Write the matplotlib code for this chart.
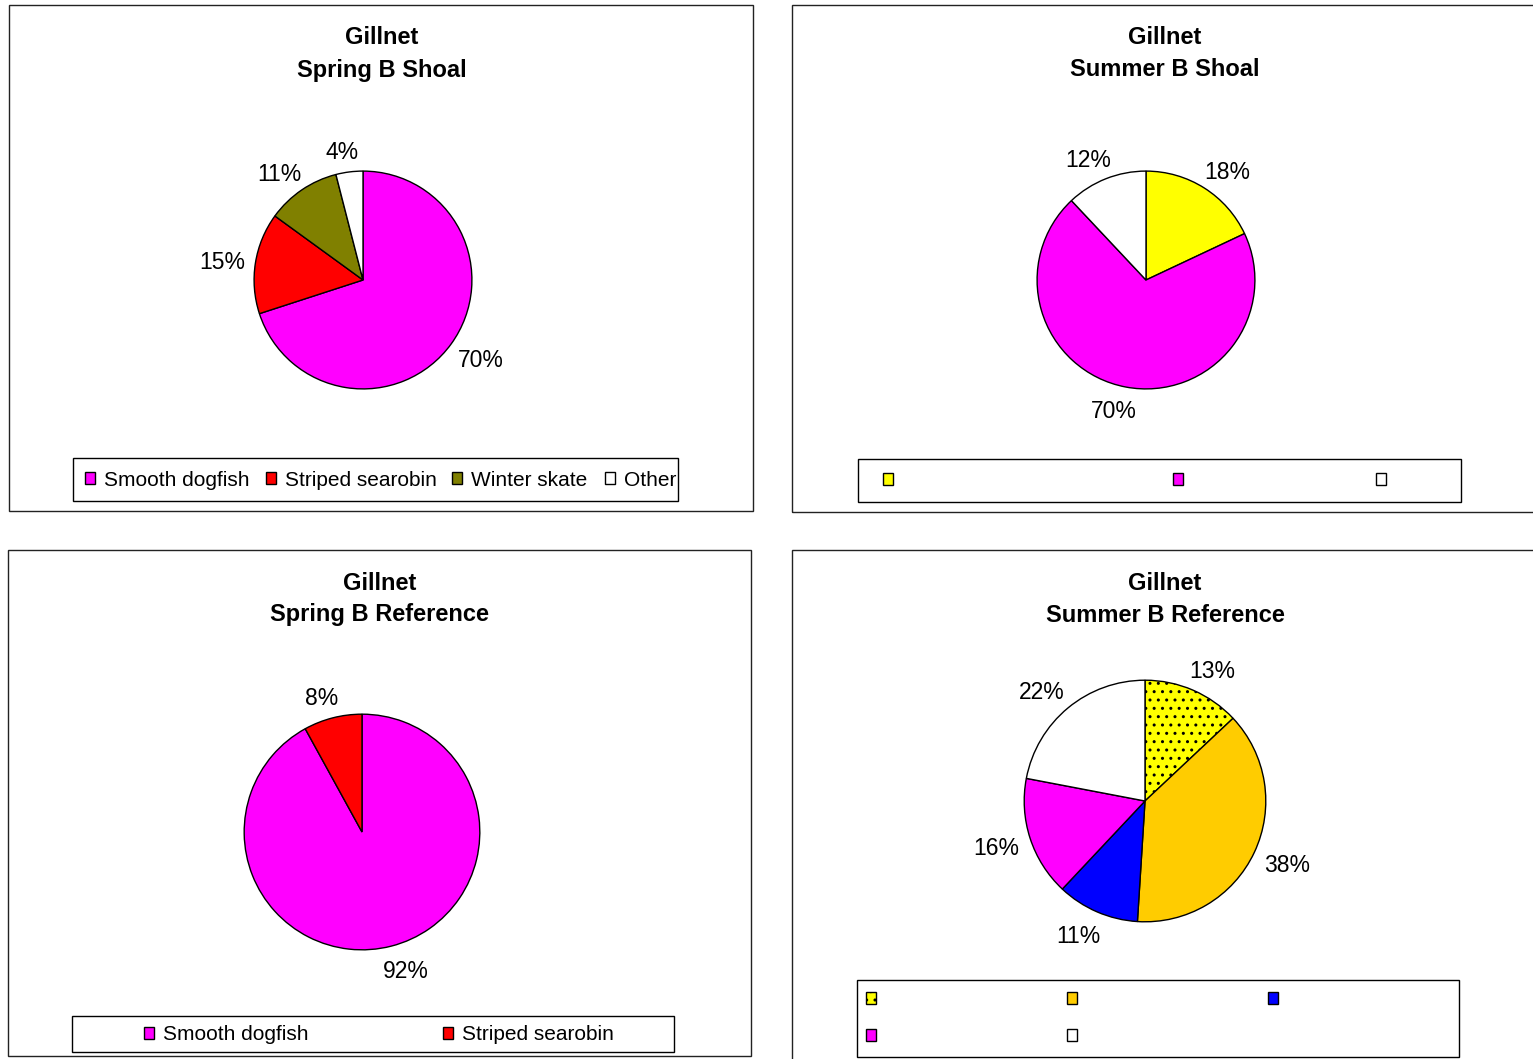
import numpy as np
import matplotlib
matplotlib.use('Agg')
import matplotlib.pyplot as plt
from matplotlib.patches import Rectangle, Patch
from matplotlib.transforms import offset_copy

plt.rcParams['font.family'] = ['Liberation Sans', 'DejaVu Sans']

# --- Data ---
spring_shoal_labels = ['Smooth dogfish', 'Striped searobin', 'Winter skate', 'Other']
spring_shoal_values = [70, 15, 11, 4]
spring_shoal_colors = ['#FF00FF', '#FF0000', '#808000', '#FFFFFF']

summer_shoal_values = [18, 70, 12]
summer_shoal_colors = ['#FFFF00', '#FF00FF', '#FFFFFF']

spring_ref_labels = ['Smooth dogfish', 'Striped searobin']
spring_ref_values = [92, 8]
spring_ref_colors = ['#FF00FF', '#FF0000']

summer_ref_values = [13, 38, 11, 16, 22]
summer_ref_colors = ['#FFFF00', '#FFCC00', '#0000FF', '#FF00FF', '#FFFFFF']
summer_ref_hatches = ['..', None, None, None, None]

titles = [("Spring B Shoal", 382, 38), ("Summer B Shoal", 1165, 38),
          ("Spring B Reference", 380, 583), ("Summer B Reference", 1165, 583)]

W, H = 1533, 1059
fig = plt.figure(figsize=(W / 100, H / 100), dpi=100)
renderer = fig.canvas.get_renderer()


def fx(x):
    return x / W


def fy(y):
    return 1 - y / H


def frame(x0, y0, x1, y1, lw=1.0, color='#222222'):
    fig.add_artist(Rectangle((fx(x0), fy(y1)), fx(x1) - fx(x0), fy(y0) - fy(y1),
                             transform=fig.transFigure, fill=False,
                             edgecolor=color, linewidth=lw, zorder=0))


def draw_pie(cx, cy, r, values, colors, hatches=None):
    ax = fig.add_axes([fx(cx - r), fy(cy + r), 2 * r / W, 2 * r / H])
    wedges, _ = ax.pie(values, colors=colors, startangle=90, counterclock=False, radius=1,
                       wedgeprops=dict(edgecolor='black', linewidth=1.0))
    if hatches:
        for w, h in zip(wedges, hatches):
            if h:
                w.set_hatch(h)
    ax.set_xlim(-1.01, 1.01)
    ax.set_ylim(-1.01, 1.01)
    ax.set_aspect('equal')
    ax.axis('off')

    # percentage labels just outside the rim, pushed away like Excel does
    total = float(sum(values))
    for w, v in zip(wedges, values):
        ang = np.radians((w.theta1 + w.theta2) / 2)
        dx, dy = np.cos(ang), np.sin(ang)
        t = ax.text(1.10 * dx, 1.10 * dy, f"{100 * v / total:.0f}%", ha='center', va='center',
                    fontsize=16.5, color='black')
        bb = t.get_window_extent(renderer)
        ox = np.sign(dx) * np.sqrt(abs(dx)) * bb.width / 2
        oy = dy * bb.height / 2 - 3
        t.set_transform(offset_copy(ax.transData, fig, x=ox, y=oy, units='dots'))
    return ax


def legend_entry(x_left, y_center, color, label='', hatch=None, size=0.5):
    h = Patch(facecolor=color, edgecolor='black', linewidth=1.0, hatch=hatch)
    fig.legend([h], [label], loc='center left', bbox_to_anchor=(fx(x_left), fy(y_center)),
               frameon=False, borderpad=0, borderaxespad=0, fontsize=15,
               handlelength=size, handleheight=size, handletextpad=0.4)


# Panel outlines
frame(9, 5, 753, 511)
frame(792, 5, 1540, 512)
frame(8, 550, 751, 1056)
frame(792, 550, 1540, 1070)

# Titles
for sub, x, y in titles:
    fig.text(fx(x), fy(y), "Gillnet", ha='center', va='center', fontsize=17, fontweight='bold')
    fig.text(fx(x), fy(y + 32), sub, ha='center', va='center', fontsize=17, fontweight='bold')

# Pies
draw_pie(363, 280, 110, spring_shoal_values, spring_shoal_colors)
draw_pie(1146, 280, 110, summer_shoal_values, summer_shoal_colors)
draw_pie(362, 832, 119, spring_ref_values, spring_ref_colors)
draw_pie(1145, 801, 122, summer_ref_values, summer_ref_colors, summer_ref_hatches)

# Legends
frame(73, 458, 678, 501, color='black')
for x, c, lab in zip([85, 266, 452, 605], spring_shoal_colors, spring_shoal_labels):
    legend_entry(x, 480, c, lab)

frame(858, 459, 1461, 502, color='black')
for x, c in zip([883, 1173, 1376], summer_shoal_colors):
    legend_entry(x, 481, c)

frame(72, 1016, 674, 1052, color='black')
for x, c, lab in zip([144, 443], spring_ref_colors, spring_ref_labels):
    legend_entry(x, 1035, c, lab)

frame(857, 980, 1459, 1057, color='black')
br_pos = [(866, 1000), (1067, 1000), (1268, 1000), (866, 1037), (1067, 1037)]
for (x, y), c, h in zip(br_pos, summer_ref_colors, summer_ref_hatches):
    legend_entry(x, y, c, hatch=h)

fig.savefig('out.png', dpi=100)
